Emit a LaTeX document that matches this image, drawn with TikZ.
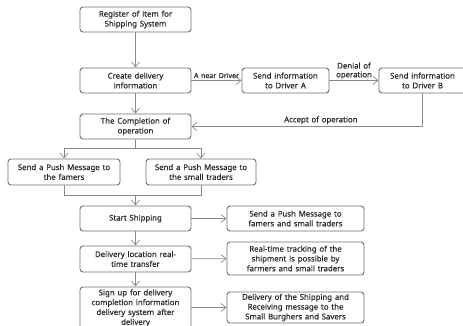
\documentclass[tikz,border=0pt]{standalone}
\usepackage{fontspec}
\setmainfont{Noto Sans}[FakeBold=0.5,WordSpace=1.4]
\usepackage{xcolor}
\usepackage{tikz}
\usetikzlibrary{positioning,calc,arrows.meta}

\definecolor{boxline}{HTML}{6E6E6E}
\definecolor{arrline}{HTML}{8A8A8A}
\definecolor{txt}{HTML}{2A2A2A}

\begin{document}
\begin{tikzpicture}[x=1pt,y=-1pt,
		box/.style={draw=boxline,line width=0.9pt,rounded corners=3pt,align=center,
			text=txt,font=\fontsize{7.8}{9.8}\selectfont,inner sep=1pt},
		arr/.style={draw=arrline,line width=0.7pt,-{Straight Barb[length=5pt,width=8pt]}},
		ln/.style={draw=arrline,line width=0.7pt},
		lbl/.style={text=txt,font=\fontsize{7.8}{8.8}\selectfont,inner sep=1pt}]
			\useasboundingbox (0,0) rectangle (463,326);
			
			% left column
			\node[box,minimum width=111pt,minimum height=25pt] (reg) at (135.5,19.5) {Register of item for\\Shipping System};
			\node[box,minimum width=111pt,minimum height=25pt] (create) at (135.5,80.5) {Create delivery\\information};
			\node[box,minimum width=111pt,minimum height=25pt] (compl) at (135.5,126.5) {The Completion of\\operation};
			\node[box,minimum width=112pt,minimum height=26pt] (pushF) at (64,172) {Send a Push Message to\\the famers};
			\node[box,minimum width=110pt,minimum height=26pt] (pushT) at (201,172) {Send a Push Message to\\the small traders};
			\node[box,minimum width=111pt,minimum height=25pt] (ship) at (135.5,218.5) {Start Shipping};
			\node[box,minimum width=111pt,minimum height=26pt] (loc) at (135.5,259) {Delivery location real-\\time transfer};
			\node[box,minimum width=111pt,minimum height=42pt] (sign) at (135.5,308) {Sign up for delivery\\completion information\\delivery system after\\delivery};
			
			% drivers
			\node[box,minimum width=87pt,minimum height=25pt] (drvA) at (285.5,80.5) {Send information\\to Driver A};
			\node[box,minimum width=87pt,minimum height=25pt] (drvB) at (422.5,80.5) {Send information\\to Driver B};
			
			% right column
			\node[box,minimum width=137pt,minimum height=25pt] (msg) at (295.5,218.5) {Send a Push Message to\\famers and small traders};
			\node[box,minimum width=137pt,minimum height=33pt] (track) at (295.5,258.5) {Real-time tracking of the\\shipment is possible by\\farmers and small traders};
			\node[box,minimum width=137pt,minimum height=31pt] (deliv) at (295.5,307.5) {Delivery of the Shipping and\\Receiving message to the\\Small Burghers and Savers};
			
			\coordinate (split) at (135.5,148);
			\coordinate (join) at (135.5,195);
			
			\draw[arr] (reg) -- (create);
			\draw[arr] (create) -- (compl);
			\draw[arr] (create) -- node[lbl,above=1pt,font=\fontsize{7}{8}\selectfont] {A near Driver} (drvA);
			\draw[arr] (drvA) -- node[lbl,above=0pt,align=center] {Denial of\\operation} (drvB);
			\draw[arr] (drvB.south) |- node[lbl,above=1pt,pos=0.72] {Accept of operation} (compl.east);
			
			\draw[ln] (compl) -- (split);
			\draw[arr] (split) -| (pushF);
			\draw[arr] (split) -| (pushT);
			\draw[ln] (pushF) |- (join);
			\draw[ln] (pushT) |- (join);
			\draw[arr] (join) -- (ship);
			
			\draw[arr] (ship) -- (loc);
			\draw[arr] (loc) -- (sign);
			\draw[arr] (ship) -- (msg);
			\draw[arr] (loc) -- (track);
			\draw[arr] (sign.east |- deliv.west) -- (deliv);
		\end{tikzpicture}
\end{document}
